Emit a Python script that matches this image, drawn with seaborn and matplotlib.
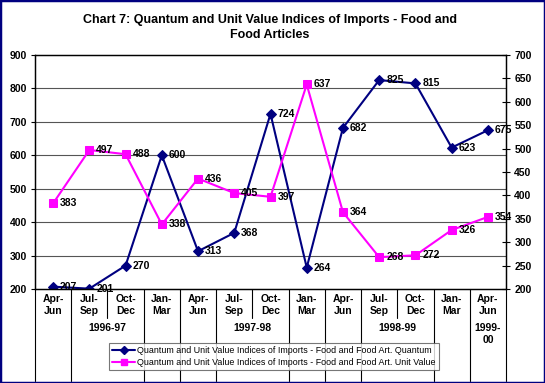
import numpy as np
import pandas as pd
import matplotlib
matplotlib.use('Agg')
import matplotlib.pyplot as plt
import matplotlib.transforms as mtransforms
from matplotlib.patches import Rectangle
import seaborn as sns

quarters = ['Apr-\nJun', 'Jul-\nSep', 'Oct-\nDec', 'Jan-\nMar',
            'Apr-\nJun', 'Jul-\nSep', 'Oct-\nDec', 'Jan-\nMar',
            'Apr-\nJun', 'Jul-\nSep', 'Oct-\nDec', 'Jan-\nMar',
            'Apr-\nJun']
quantum = [207, 201, 270, 600, 313, 368, 724, 264, 682, 825, 815, 623, 675]
unit_value = [383, 497, 488, 338, 436, 405, 397, 637, 364, 268, 272, 326, 354]
years = ['1996-97', '1997-98', '1998-99', '1999-\n00']
year_centers = [1.5, 5.5, 9.5, 12]
long_seps = [-0.5, 0.5, 2.5, 3.5, 4.5, 6.5, 7.5, 8.5, 10.5, 11.5, 12.5]
short_seps = [1.5, 5.5, 9.5]

label_q = 'Quantum and Unit Value Indices of Imports - Food and Food Art. Quantum'
label_u = 'Quantum and Unit Value Indices of Imports - Food and Food Art. Unit Value'
title = 'Chart 7: Quantum and Unit Value Indices of Imports - Food and\nFood Articles'

df = pd.DataFrame({'idx': np.arange(len(quarters)), 'quantum': quantum, 'unit_value': unit_value})

sns.set_style('white')
plt.rcParams['font.family'] = ['Liberation Sans', 'DejaVu Sans']
plt.rcParams['text.color'] = 'black'
plt.rcParams['ytick.color'] = 'black'
plt.rcParams['xtick.color'] = 'black'

navy = '#000080'
magenta = '#FF00FF'

fig = plt.figure(figsize=(5.45, 3.83), dpi=100)
ax1 = fig.add_axes([35 / 545, 1 - 289 / 383, 471 / 545, 234 / 383])
ax2 = ax1.twinx()

sns.lineplot(data=df, x='idx', y='quantum', ax=ax1, color=navy, marker='D', markersize=5,
             markeredgecolor=navy, linewidth=1.5, legend=False)
sns.lineplot(data=df, x='idx', y='unit_value', ax=ax2, color=magenta, marker='s', markersize=6,
             markeredgecolor=magenta, linewidth=1.5, legend=False)

ax1.set_xlim(-0.5, len(quarters) - 0.5)
ax1.set_ylim(200, 900)
ax2.set_ylim(200, 700)
ax1.set_yticks(np.arange(200, 901, 100))
ax2.set_yticks(np.arange(200, 701, 50))
ax1.set_xticks([])
ax1.set_xlabel('')
ax1.set_ylabel('')
ax2.set_ylabel('')

for v in range(300, 900, 100):
    ax1.axhline(v, color='#555555', linewidth=0.8, zorder=0)

for ax in (ax1, ax2):
    for s in ax.spines.values():
        s.set_color('black')
        s.set_linewidth(0.9)
        s.set_visible(True)

ax1.tick_params(axis='y', direction='out', length=3, width=0.8, left=True, labelsize=7.5, pad=3)
ax2.tick_params(axis='y', direction='inout', length=6, width=0.8, right=True, labelsize=7.5, pad=3)
for lbl in ax1.get_yticklabels() + ax2.get_yticklabels():
    lbl.set_fontweight('bold')

# data labels
for x, v in zip(df['idx'], quantum):
    ax1.annotate(str(v), (x, v), xytext=(5, 0), textcoords='offset points',
                 va='center', ha='left', fontsize=7.5, fontweight='bold')
for x, v in zip(df['idx'], unit_value):
    ax2.annotate(str(v), (x, v), xytext=(5, 0), textcoords='offset points',
                 va='center', ha='left', fontsize=7.5, fontweight='bold')

# multi-level category axis
trans = mtransforms.blended_transform_factory(ax1.transData, ax1.transAxes)
for x, q in zip(df['idx'], quarters):
    ax1.text(x, -0.02, q, transform=trans, ha='center', va='top', fontsize=7.5,
             fontweight='bold', linespacing=1.3)
for x, y in zip(year_centers, years):
    ax1.text(x, -0.145, y, transform=trans, ha='center', va='top', fontsize=7.5,
             fontweight='bold', linespacing=1.3)
for x in long_seps:
    ax1.plot([x, x], [0, -0.395], transform=trans, color='black', linewidth=0.8, clip_on=False)
for x in short_seps:
    ax1.plot([x, x], [0, -0.125], transform=trans, color='black', linewidth=0.8, clip_on=False)

# legend
h1 = plt.Line2D([], [], color=navy, marker='D', markersize=4, linewidth=1.5)
h2 = plt.Line2D([], [], color=magenta, marker='s', markersize=4, linewidth=1.5)
leg = fig.legend([h1, h2], [label_q, label_u], loc='upper left',
                 bbox_to_anchor=(109 / 545, 1 - 343 / 383), fontsize=6.4, frameon=True,
                 fancybox=False, borderpad=0.35, labelspacing=0.3, handlelength=2.6,
                 handletextpad=0.2, borderaxespad=0)
leg.get_frame().set_edgecolor('#555555')
leg.get_frame().set_linewidth(0.8)

fig.text(270 / 545, 1 - 14 / 383, title, ha='center', va='top', fontsize=9,
         fontweight='bold', linespacing=1.35)

fig.patches.append(Rectangle((0, 0), 1, 1, transform=fig.transFigure, fill=False,
                             edgecolor=navy, linewidth=2.5))

fig.savefig('out.png', dpi=100)
